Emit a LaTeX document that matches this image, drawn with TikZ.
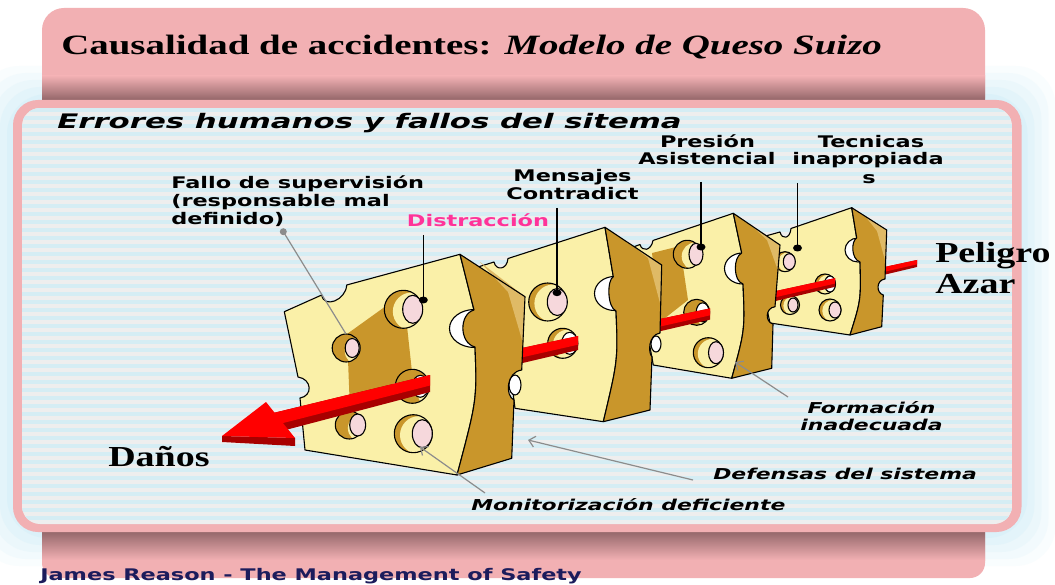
\documentclass[tikz,border=0pt]{standalone}
\usepackage{fontspec}
\setmainfont{Liberation Serif}
\newfontfamily\dvs{DejaVu Sans}
\usetikzlibrary{arrows.meta,shapes.geometric}
\definecolor{pinkH}{HTML}{F2B0B3}
\definecolor{pinkD}{HTML}{8F6366}
\definecolor{stripeB}{HTML}{D5EDF4}
\definecolor{stripeG}{HTML}{EEEEEE}
\definecolor{glowc}{HTML}{C9ECF7}
\definecolor{cheese}{HTML}{FAF0A8}
\definecolor{gold}{HTML}{C9962B}
\definecolor{goldL}{HTML}{DFBA66}
\definecolor{holepink}{HTML}{F6D8DC}
\definecolor{rodR}{HTML}{FF0000}
\definecolor{rodD}{HTML}{A80000}
\definecolor{labpink}{HTML}{FF3399}
\definecolor{navy}{HTML}{1C1C5C}
\definecolor{leadgray}{HTML}{8C8C8C}
\newcommand\chole[8]{%
  \begin{scope}
    \clip (#1,#2) circle [radius=#3];
    \fill[gold] (#1,#2) circle [radius=#3];
    \fill[cheese] ({#1+#4*#3},{#2+0.25*#4*#3}) circle [radius=#3];
  \end{scope}
  \draw[outl] (#1,#2) circle [radius=#3];
  \filldraw[fill=#5,outl] ({#1+#6},#2) ellipse [x radius=#7, y radius=#8];
}
\newcommand\rodseg[6]{%
  \fill[rodD] (#1,{#2-#3/2}) -- (#4,{#5-#6/2}) -- (#4,{#5+#6/2}) -- (#1,{#2+#3/2}) -- cycle;
  \fill[rodR] (#1,{#2-#3/2}) -- (#4,{#5-#6/2}) -- (#4,{#5+0.12*#6}) -- (#1,{#2+0.12*#3}) -- cycle;
}
\begin{document}
\begin{tikzpicture}[x=1pt,y=-1pt,line join=round,
  outl/.style={draw=black,line width=1.1pt,line join=round},
  bdot/.style={shape=ellipse,fill=black,inner sep=0pt,minimum width=9pt,minimum height=7pt},
  gdot/.style={shape=circle,fill=leadgray,inner sep=0pt,minimum size=7pt},
  bline/.style={draw=black,line width=1.3pt},
  gline/.style={draw=leadgray,line width=1.2pt},
  garrow/.style={gline,-{Straight Barb[length=6pt,width=11pt,line width=1.2pt]}},
  titlef/.style={font=\bfseries\fontsize{28}{30}\selectfont,inner sep=0pt,xscale=1.39},
  errf/.style={font=\dvs\bfseries\itshape\fontsize{20}{22}\selectfont,inner sep=0pt,xscale=1.54},
  lab/.style={font=\dvs\bfseries\fontsize{16}{18}\selectfont,inner sep=0pt,xscale=1.4},
  itl/.style={font=\dvs\bfseries\itshape\fontsize{15}{17}\selectfont,inner sep=0pt,xscale=1.46},
  serifb/.style={font=\bfseries\fontsize{29}{31}\selectfont,inner sep=0pt,xscale=1.31},
  foot/.style={font=\dvs\bfseries\fontsize{16}{18}\selectfont,inner sep=0pt,xscale=1.4,text=navy}]
\useasboundingbox (0,0) rectangle (1055,585);
\fill[white] (0,0) rectangle (1055,585);
% glow
\foreach \d/\o in {34/0.10,27/0.13,20/0.17,13/0.22,6/0.3}{
  \fill[glowc,opacity=\o,rounded corners=40pt] ({13-\d},{100-\d}) rectangle ({1021.5+\d},{532+\d});
}
% header and footer
\fill[pinkH,rounded corners=22pt] (42,8) rectangle (985,120);
\shade[top color=pinkH,bottom color=pinkD] (42,76) rectangle (985,101);
\fill[pinkH,rounded corners=15pt] (42,500) rectangle (985,578);
\shade[top color=pinkD,bottom color=pinkH] (42,530) rectangle (985,560);
% main panel
\fill[pinkH,rounded corners=25pt] (13,100) rectangle (1021.5,532);
\begin{scope}
  \clip[rounded corners=18pt] (22,108) rectangle (1012,524);
  \fill[stripeG] (22,108) rectangle (1012,524);
  \foreach \yy in {108,116,...,524} \fill[stripeB] (22,\yy) rectangle (1012,{\yy+4});
\end{scope}
% titles
\node[titlef,anchor=base west] (title) at (61,55) {Causalidad de accidentes: \textit{Modelo de Queso Suizo}};
\node[errf,anchor=base west] (errores) at (57,128.3) {Errores humanos y fallos del sitema};
% ---------- rod end (right)
\rodseg{917}{263.5}{7}{875}{273}{7.9}
% ---------- slice 4
\def\SfourF{(762,237) -- (780,232) .. controls (782,240) and (790,239) .. (791,228.5) -- (851.7,207.7) -- (856.7,238) -- (860,262) .. controls (861,300) .. (850,335) -- (770,323) -- (765,300) -- cycle}
\def\SfourS{(851.7,207.7) -- (886.7,230) -- (885,279) .. controls (876,280) and (876,293) .. (883.3,295) -- (881.7,326.7) -- (850,335) .. controls (861,300) .. (860,262) .. controls (851,259) and (851,241) .. (856.7,238) -- cycle}
\filldraw[fill=cheese,outl] \SfourF;
\chole{785}{261.7}{10}{0.3}{holepink}{4.3}{6}{8}
\chole{825}{284}{10}{0.3}{white}{5}{5.5}{8}
\chole{790}{305}{9.5}{0.3}{holepink}{3}{5}{7}
\chole{830}{310}{11}{0.3}{holepink}{5}{6}{8}
\filldraw[fill=white,outl] (858,250) ellipse [x radius=13, y radius=12];
\fill[gold] \SfourS;
\fill[goldL] (865,216) -- (886.7,230) -- (885.5,262) -- (877,231) -- cycle;
\draw[outl] \SfourS;
\rodseg{835}{282.5}{8.7}{745}{303}{10.5}
% ---------- slice 3
\def\SthreeF{(628,249) -- (640,244.5) .. controls (642,252) and (651,251) .. (653,240.5) -- (733.3,213.3) -- (741.7,253) -- (743,284) .. controls (745,330) .. (731.7,378.3) -- (653.3,365) -- (645,320) -- cycle}
\def\SthreeS{(733.3,213.3) -- (780,245) -- (775,306.7) .. controls (765,308) and (765,322) .. (773,324) -- (771.7,368.3) -- (731.7,378.3) .. controls (745,330) .. (743,284) .. controls (733,281) and (733,257) .. (741.7,253) -- cycle}
\fill[cheese] \SthreeF;
\fill[gold] (652,253) -- (680,246) -- (688,300) -- (660,322) -- cycle;
\draw[outl] \SthreeF;
\chole{687.3}{254.3}{14}{0.6}{holepink}{8.7}{7}{11}
\chole{696.7}{312.3}{13}{1.0}{white}{6}{6.5}{9.5}
\chole{708.3}{352.7}{15}{0.3}{holepink}{7.7}{7.5}{11}
\filldraw[fill=white,outl] (742.5,268.5) ellipse [x radius=18, y radius=15.5];
\fill[gold] \SthreeS;
\fill[goldL] (752,226) -- (780,245) -- (778.5,272) -- (767,240) -- cycle;
\draw[outl] \SthreeS;
\rodseg{710}{314}{11.2}{620}{334}{13.1}
% ---------- slice 2
\def\StwoF{(478,267) -- (494,262) .. controls (496,271) and (507,270) .. (508,258.5) -- (605,227.3) -- (613.3,276.7) -- (616,311) .. controls (618,360) .. (603.3,421.7) -- (515,408.3) -- (505,330) -- cycle}
\def\StwoS{(605,227.3) -- (661.7,265) -- (660,333) .. controls (648,335) and (648,353) .. (652,356.7) -- (650,410) -- (603.3,421.7) .. controls (618,360) .. (616,311) .. controls (607,307) and (607,280) .. (613.3,276.7) -- cycle}
\filldraw[fill=cheese,outl] \StwoF;
\chole{547.7}{302}{19}{0.3}{holepink}{9.6}{10}{13.5}
\chole{562.7}{343.3}{15}{0.35}{white}{7}{8}{11}
\filldraw[fill=white,outl] (614.5,293.5) ellipse [x radius=20, y radius=17];
\filldraw[fill=white,outl] (656,344) ellipse [x radius=5, y radius=8];
\fill[gold] \StwoS;
\fill[goldL] (628,242) -- (661.7,265) -- (660.5,305) -- (648,258) -- cycle;
\draw[outl] \StwoS;
\rodseg{578}{343}{14}{480}{365}{16}
% ---------- slice 1
\def\SoneF{(284.3,311.7) -- (321.7,295) .. controls (324,309) and (346,300) .. (346.7,285) -- (460,254.3) -- (474,310) -- (475,347) .. controls (477,400) .. (457,475) -- (305,450) -- (300,398) .. controls (313,396) and (312,379) .. (298,377) -- cycle}
\def\SoneS{(460,254.3) -- (525,296.7) -- (521.7,370) .. controls (506,372) and (505,396) .. (514,400) -- (511.7,458.3) -- (457,475) .. controls (477,400) .. (475,347) .. controls (459,343) and (459,314) .. (474,310) -- cycle}
\fill[cheese] \SoneF;
\fill[gold] (347,334) -- (386,306) -- (407,326) -- (412,372) -- (350,411) -- cycle;
\draw[outl] \SoneF;
\chole{403.3}{309.3}{19}{0.45}{holepink}{9.4}{10}{14}
\chole{346.2}{348}{14}{0.9}{holepink}{6}{7}{9.5}
\chole{412.3}{386.3}{17}{1.3}{white}{8}{8}{11}
\chole{349.3}{425}{14}{0.9}{holepink}{8.4}{8}{11}
\chole{413.3}{433.7}{19}{0.3}{holepink}{9}{10}{14}
\filldraw[fill=white,outl] (474.5,328.5) ellipse [x radius=25, y radius=19];
\filldraw[fill=white,outl] (515,385) ellipse [x radius=6, y radius=10];
\fill[gold] \SoneS;
\fill[goldL] (480,262) -- (525,296.7) -- (523.5,345) -- (508,292) -- cycle;
\draw[outl] \SoneS;
% ---------- rod front part and head
\rodseg{430}{383.5}{17}{265}{425.2}{20.4}
\fill[rodD] (222,436) -- (295,438) -- (295,446) -- (222,442) -- cycle;
\fill[rodR] (222,436) -- (266,402) -- (295,438) -- cycle;
% ---------- labels
\node[lab,anchor=base west] (fallo1) at (171,188.3) {Fallo de supervisión};
\node[lab,anchor=base west] (fallo2) at (171,207) {(responsable mal};
\node[lab,anchor=base west] (fallo3) at (171,225) {definido)};
\node[lab,anchor=base west,text=labpink] (distr) at (406.7,227) {Distracción};
\node[lab,anchor=base] (mens1) at (572.5,181.7) {Mensajes};
\node[lab,anchor=base] (mens2) at (572.5,200) {Contradict};
\node[lab,anchor=base] (pres1) at (707.5,147.3) {Presión};
\node[lab,anchor=base] (pres2) at (707,165) {Asistencial};
\node[lab,anchor=base] (tec1) at (871,147.3) {Tecnicas};
\node[lab,anchor=base] (tec2) at (868,165) {inapropiada};
\node[lab,anchor=base] (tec3) at (869,183.3) {s};
\node[serifb,anchor=base west] (pel) at (935,262.7) {Peligro};
\node[serifb,anchor=base west] (azar) at (935,293.3) {Azar};
\node[serifb,anchor=base west] (danos) at (108,466.7) {Daños};
\node[itl,anchor=base] (form1) at (871.5,413.3) {Formación};
\node[itl,anchor=base] (form2) at (871.5,430) {inadecuada};
\node[itl,anchor=base west] (defen) at (713,479.3) {Defensas del sistema};
\node[itl,anchor=base west] (monit) at (471,510) {Monitorización deficiente};
\node[foot,anchor=base west] (footer) at (40,580) {James Reason - The Management of Safety};
% ---------- leaders
\node[gdot] (gFallo) at (283.3,231.7) {};
\coordinate (tFallo) at (346,334);
\draw[gline] (gFallo.center) -- (tFallo);
\coordinate (cDis) at (423.3,235);
\node[bdot] (dDis) at (423.3,300) {};
\draw[bline] (cDis) -- (dDis.center);
\coordinate (cMen) at (557,208);
\node[bdot] (dMen) at (557,292.7) {};
\draw[bline] (cMen) -- (dMen.center);
\coordinate (cPre) at (701,182);
\node[bdot] (dPre) at (701,247) {};
\draw[bline] (cPre) -- (dPre.center);
\coordinate (cTec) at (797.5,183);
\node[bdot] (dTec) at (797.5,248) {};
\draw[bline] (cTec) -- (dTec.center);
\coordinate (cForm) at (788,397);
\coordinate (tForm) at (735,362);
\draw[garrow] (cForm) -- (tForm);
\coordinate (cDef) at (693,480);
\coordinate (tDef) at (528,440);
\draw[garrow] (cDef) -- (tDef);
\coordinate (cMon) at (485,493);
\coordinate (tMon) at (420,447);
\draw[garrow] (cMon) -- (tMon);
\end{tikzpicture}
\end{document}
